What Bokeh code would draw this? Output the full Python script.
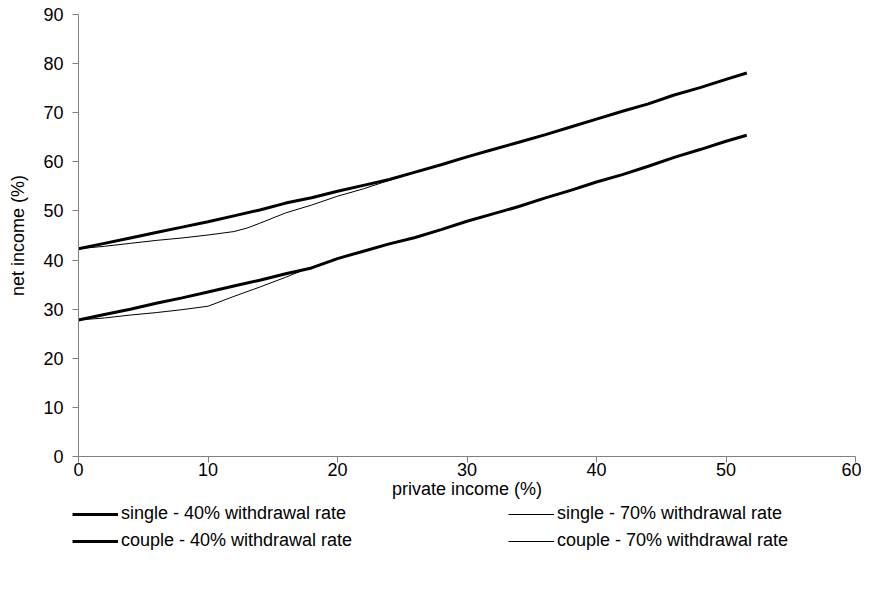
from bokeh.plotting import figure
from bokeh.models import Range1d, Legend, LegendItem, FixedTicker
from bokeh.embed import file_html
from bokeh.resources import INLINE

# private income (%)
x_main = [0, 2, 4, 6, 8, 10, 12, 14, 16, 18, 20, 22, 24, 26, 28, 30, 32, 34,
          36, 38, 40, 42, 44, 46, 48, 50, 51.6]
single_40 = [27.8, 28.9, 30.0, 31.2, 32.3, 33.5, 34.7, 35.9, 37.2, 38.4, 40.3,
             41.8, 43.3, 44.6, 46.2, 47.9, 49.4, 50.9, 52.6, 54.2, 55.9, 57.4,
             59.1, 60.9, 62.5, 64.2, 65.4]
couple_40 = [42.3, 43.4, 44.5, 45.6, 46.7, 47.8, 49.0, 50.2, 51.6, 52.7, 54.0,
             55.2, 56.4, 57.9, 59.4, 61.0, 62.5, 64.0, 65.5, 67.1, 68.7, 70.3,
             71.8, 73.6, 75.1, 76.8, 78.1]
x_single_70 = [0, 2, 4, 6, 8, 10, 12, 14, 16, 17.6, 20, 22, 24, 26, 28, 30, 32,
               34, 36, 38, 40, 42, 44, 46, 48, 50, 51.6]
single_70 = [27.8, 28.2, 28.8, 29.3, 29.9, 30.6, 32.6, 34.5, 36.5, 38.2, 40.3,
             41.8, 43.3, 44.6, 46.2, 47.9, 49.4, 50.9, 52.6, 54.2, 55.9, 57.4,
             59.1, 60.9, 62.5, 64.2, 65.4]
x_couple_70 = [0, 2, 4, 6, 8, 10, 12, 13, 14, 16, 18, 20, 22, 23.5, 26, 28, 30,
               32, 34, 36, 38, 40, 42, 44, 46, 48, 50, 51.6]
couple_70 = [42.3, 42.8, 43.4, 44.0, 44.5, 45.1, 45.8, 46.5, 47.5, 49.6, 51.2,
             53.0, 54.5, 55.8, 57.9, 59.4, 61.0, 62.5, 64.0, 65.5, 67.1, 68.7,
             70.3, 71.8, 73.6, 75.1, 76.8, 78.1]

labels = ["single - 40% withdrawal rate", "single - 70% withdrawal rate",
          "couple - 40% withdrawal rate", "couple - 70% withdrawal rate"]
x_ticks = [0, 10, 20, 30, 40, 50, 60]
y_ticks = [0, 10, 20, 30, 40, 50, 60, 70, 80, 90]

FONT = "Liberation Sans"
FS = "18px"

# Layout: the frame covers the whole canvas; axes sit at fixed data locations
# so that tick labels, axis titles and the legend are drawn inside the frame.
CANVAS_W, CANVAS_H = 861, 560
LEFT, RIGHT, TOP, AXIS_Y = 78, 855, 14, 456      # pixel positions of 0/60 and 90/0
PX_X = (RIGHT - LEFT) / 60.0
PX_Y = (AXIS_Y - TOP) / 90.0
X_MIN, X_MAX = -LEFT / PX_X, 60 + (CANVAS_W - RIGHT) / PX_X
Y_MIN, Y_MAX = -(CANVAS_H - AXIS_Y) / PX_Y, 90 + TOP / PX_Y

p = figure(frame_width=CANVAS_W, frame_height=CANVAS_H, output_backend="svg",
           toolbar_location=None,
           x_range=Range1d(X_MIN, X_MAX), y_range=Range1d(Y_MIN, Y_MAX),
           min_border_left=0, min_border_right=0, min_border_top=0,
           min_border_bottom=0)
p.outline_line_color = None
p.grid.grid_line_color = None
p.background_fill_color = "white"

for ax in (p.xaxis[0], p.yaxis[0]):
    ax.axis_line_color = "#808080"
    ax.major_tick_line_color = "#808080"
    ax.major_tick_in = 0
    ax.major_tick_out = 6
    ax.minor_tick_line_color = None
    ax.major_label_text_font = FONT
    ax.major_label_text_font_size = FS
    ax.major_label_text_color = "black"
    ax.axis_label_text_font = FONT
    ax.axis_label_text_font_size = FS
    ax.axis_label_text_font_style = "normal"
    ax.axis_label_text_color = "black"

p.xaxis.ticker = FixedTicker(ticks=x_ticks)
p.yaxis.ticker = FixedTicker(ticks=y_ticks)
p.xaxis.fixed_location = 0
p.yaxis.fixed_location = 0
p.xaxis.bounds = (0, 60)
p.yaxis.bounds = (0, 90)
p.xaxis.axis_label = "private income (%)"
p.yaxis.axis_label = "net income (%)"
p.xaxis.major_label_standoff = 0
p.yaxis.major_label_standoff = 9
p.xaxis.axis_label_standoff = 0
p.yaxis.axis_label_standoff = 12

r1 = p.line(x_main, single_40, line_color="black", line_width=3)
r2 = p.line(x_single_70, single_70, line_color="black", line_width=1)
r3 = p.line(x_main, couple_40, line_color="black", line_width=3)
r4 = p.line(x_couple_70, couple_70, line_color="black", line_width=1)

legend = Legend(items=[LegendItem(label=labels[0], renderers=[r1]),
                       LegendItem(label=labels[1], renderers=[r2]),
                       LegendItem(label=labels[2], renderers=[r3]),
                       LegendItem(label=labels[3], renderers=[r4])],
                ncols=2, location=(72, 9), orientation="horizontal",
                glyph_width=46, glyph_height=20, label_standoff=3,
                label_width=381, label_height=20, spacing=6,
                padding=0, margin=0,
                border_line_color=None, background_fill_alpha=0,
                label_text_font=FONT, label_text_font_size=FS,
                label_text_color="black")
p.add_layout(legend, "center")

open("out.html", "w").write(file_html(p, INLINE))
